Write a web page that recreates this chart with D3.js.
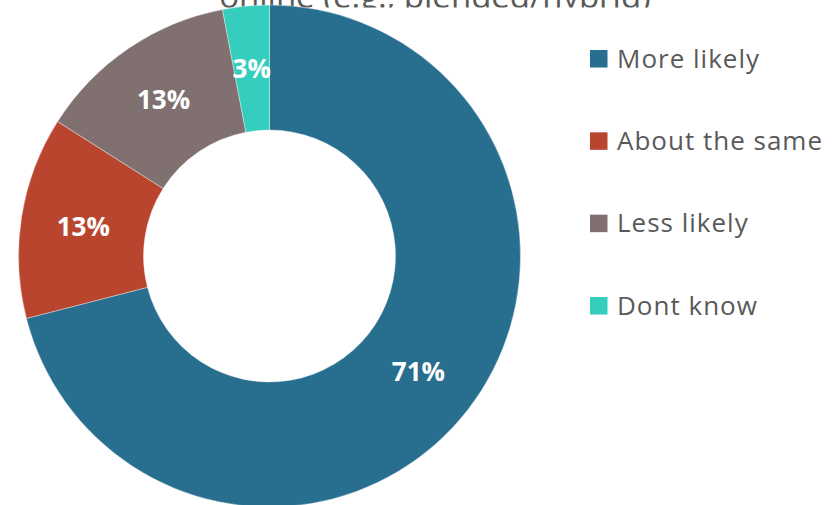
<!DOCTYPE html>
<html>
<head>
<meta charset="utf-8">
<script src="https://cdn.jsdelivr.net/npm/d3@7"></script>
<style>
  html, body { margin: 0; padding: 0; background: #ffffff; }
  svg { display: block; }
</style>
</head>
<body>
<svg id="chart" width="840" height="505"></svg>
<script>
const categories = ["More likely", "About the same", "Less likely", "Dont know"];
const values = [71, 13, 13, 3];
const valueLabels = ["71%", "13%", "13%", "3%"];
const colors = ["#286F8F", "#B9452F", "#807170", "#35CDBD"];
const titleLines = ["online (e.g., blended/hybrid)"];

const svg = d3.select("#chart");
const W = 840, H = 505;
const cx = 269.5, cy = 256, outerR = 251, innerR = 126;

// Title (its upper part lies above the picture; the plot area hides its bottom edge)
svg.append("defs").append("clipPath").attr("id", "titleClip")
  .append("rect").attr("x", 0).attr("y", -50).attr("width", W).attr("height", 57.5);

svg.append("g").attr("clip-path", "url(#titleClip)")
  .selectAll("text").data(titleLines).join("text")
  .attr("x", 435).attr("y", 7.5)
  .attr("text-anchor", "middle")
  .attr("font-family", "'Open Sans', sans-serif")
  .attr("font-size", 33)
  .attr("fill", "#595959")
  .text(d => d);

const data = categories.map((c, i) => ({ name: c, value: values[i], label: valueLabels[i], color: colors[i] }));

const pie = d3.pie().value(d => d.value).sort(null);
const arc = d3.arc().innerRadius(innerR).outerRadius(outerR);
const arcs = pie(data);

const g = svg.append("g").attr("transform", `translate(${cx},${cy})`);

g.selectAll("path").data(arcs).join("path")
  .attr("d", arc)
  .attr("fill", d => d.data.color)
  .attr("stroke", "#ffffff")
  .attr("stroke-opacity", 0.6)
  .attr("stroke-width", 0.6);

g.selectAll("text.lbl").data(arcs).join("text")
  .attr("class", "lbl")
  .attr("transform", d => `translate(${arc.centroid(d)})`)
  .attr("text-anchor", "middle")
  .attr("dy", "0.36em")
  .attr("font-family", "'Open Sans', sans-serif")
  .attr("font-weight", "bold")
  .attr("font-size", 26)
  .attr("fill", "#ffffff")
  .text(d => d.data.label);

// Legend
const legendY = d3.scalePoint().domain(categories).range([58.5, 305.5]);
const leg = svg.append("g");
const items = leg.selectAll("g").data(data).join("g")
  .attr("transform", d => `translate(590,${legendY(d.name)})`);
items.append("rect")
  .attr("x", 0).attr("y", -8.5).attr("width", 17.5).attr("height", 17.5)
  .attr("fill", d => d.color);
items.append("text")
  .attr("x", 27).attr("y", 0).attr("dy", "0.35em")
  .attr("font-family", "'Open Sans', sans-serif")
  .attr("font-size", 26)
  .attr("letter-spacing", 1)
  .attr("fill", "#595959")
  .text(d => d.name);
</script>
</body>
</html>
